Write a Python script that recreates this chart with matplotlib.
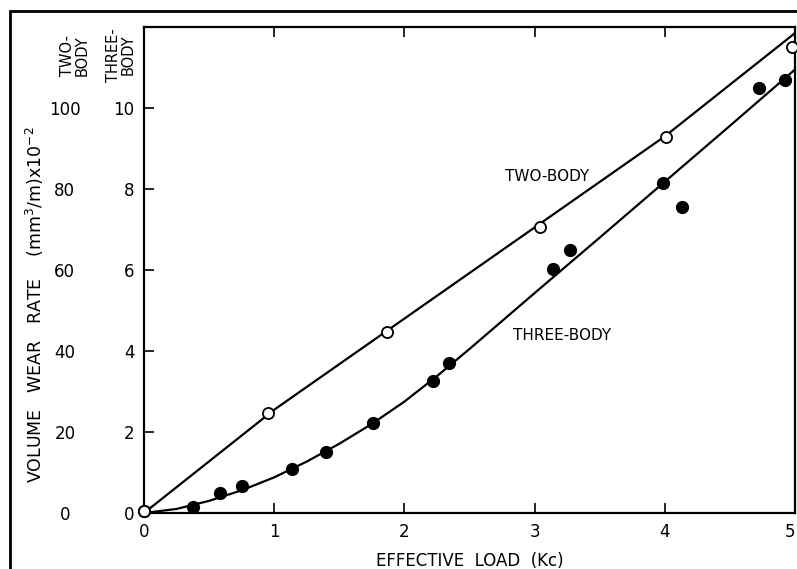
import numpy as np
import matplotlib
matplotlib.use('Agg')
import matplotlib.pyplot as plt
from matplotlib.patches import Rectangle

# open circles, two-body (left scale 0-120)
two_x = [0, 0.95, 1.87, 3.04, 4.01, 4.98]
two_y = [0.5, 24.6, 44.8, 70.7, 92.8, 115]
# drawn two-body line
two_line_x = [0, 1, 2, 3, 4, 5]
two_line_y = [0, 25.5, 48, 70.5, 93, 118.5]

# filled circles, three-body (scale 0-12)
three_x = [0, 0.38, 0.58, 0.75, 1.14, 1.40, 1.76, 2.22, 2.34, 3.14, 3.27, 3.99, 4.13, 4.72, 4.92]
three_y = [0.05, 0.15, 0.49, 0.67, 1.08, 1.50, 2.21, 3.27, 3.70, 6.03, 6.50, 8.15, 7.56, 10.49, 10.70]
# drawn three-body curve
three_line_x = [0, 0.25, 0.5, 0.75, 1, 1.25, 1.5, 1.75, 2, 2.25, 2.5, 3, 3.5, 4, 4.5, 5]
three_line_y = [0, 0.1, 0.3, 0.56, 0.88, 1.27, 1.71, 2.2, 2.75, 3.38, 4.05, 5.43, 6.8, 8.18, 9.56, 10.95]

x_ticks = [0, 1, 2, 3, 4, 5]
three_ticks = [0, 2, 4, 6, 8, 10]
two_ticks = [0, 20, 40, 60, 80, 100]

W, H = 797, 569
fig = plt.figure(figsize=(W / 100, H / 100), dpi=100)
ax = fig.add_axes([144 / W, 56 / H, 651 / W, 486 / H])

ax.plot(three_line_x, three_line_y, color='black', lw=1.6, zorder=2)
ax.plot(three_x, three_y, 'o', color='black', ms=8.5, zorder=3, clip_on=False)
ax.set_xlim(0, 5)
ax.set_ylim(0, 12)
ax.set_xticks(x_ticks)
ax.set_yticks(three_ticks)
ax.tick_params(direction='in', top=True, right=True, length=7, width=1.2,
               labelsize=12, pad=7)
# last x label sits at the edge of the page
ax.get_xticklabels()[-1].set_horizontalalignment('right')
for s in ax.spines.values():
    s.set_linewidth(1.6)

# two-body on its own scale, labels in a column further left
ax2 = ax.twinx()
ax2.set_ylim(0, 120)
ax2.plot(two_line_x, two_line_y, color='black', lw=1.6, zorder=2)
ax2.plot(two_x, two_y, 'o', mfc='white', mec='black', mew=1.3, ms=8, zorder=3, clip_on=False)
ax2.yaxis.tick_left()
ax2.set_yticks(two_ticks)
ax2.spines['left'].set_position(('outward', 57))
for s in ax2.spines.values():
    s.set_visible(False)
ax2.tick_params(axis='y', length=0, labelsize=12, pad=0)
for lbl in ax2.get_yticklabels():
    lbl.set_horizontalalignment('center')

fig.text(75 / W, 1 - 56 / H, 'TWO-\nBODY', rotation=90, ha='center', va='center',
         fontsize=10.5, linespacing=1.0)
fig.text(121 / W, 1 - 55 / H, 'THREE-\nBODY', rotation=90, ha='center', va='center',
         fontsize=10.5, linespacing=1.0)

fig.text(35 / W, 1 - 305 / H, r'VOLUME   WEAR   RATE    (mm$^3$/m)x10$^{-2}$', rotation=90,
         ha='center', va='center', fontsize=12.5)
fig.text(470 / W, 1 - 561 / H, 'EFFECTIVE  LOAD  (Kc)', ha='center', va='center', fontsize=12)

ax.text(3.10, 8.30, 'TWO-BODY', ha='center', va='center', fontsize=11)
ax.text(3.21, 4.38, 'THREE-BODY', ha='center', va='center', fontsize=11)

# outer frame of the scanned figure
fig.add_artist(Rectangle((10 / W, -0.05), 1.2, 1 - 11 / H + 0.05, transform=fig.transFigure,
                         fill=False, edgecolor='black', lw=2))

fig.savefig('out.png', dpi=100)
